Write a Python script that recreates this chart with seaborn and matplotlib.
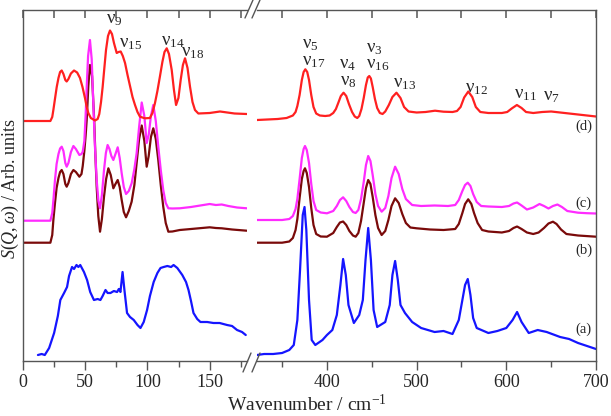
import numpy as np
import pandas as pd
import matplotlib
matplotlib.use('Agg')
from matplotlib import pyplot as plt
from matplotlib.ticker import MultipleLocator, NullLocator
from matplotlib.lines import Line2D
import seaborn as sns

# ---- data (arbitrary units, vertical offsets included) ----
# low-frequency window, 0-180 cm-1
x_d_lo = [0, 22, 23.5, 24.4, 25.8, 27.1, 28.5, 29.8, 31.1, 32.5, 34, 35.1, 36.5, 38.5, 41, 43.5, 45.8, 47.8, 49.8,
          51.2, 52.5, 54.5, 57.9, 60, 61.3, 62.7, 64, 65.3, 66.7, 68.3, 69.9, 71.5, 73.1, 75.3, 76.8, 78.5, 80.2,
          82, 84, 86, 88, 90, 92, 94, 98, 102, 104, 106, 108, 110, 112, 113.7, 115.5, 117.3, 119.5, 121.3, 123,
          124.9, 126.7, 128.5, 130.2, 132.2, 134.2, 136.2, 138.2, 140.9, 150, 158.3, 170, 179.8]
y_d_lo = [240, 240, 244, 251, 263, 274, 283, 289, 290.5, 287, 281, 279.5, 282, 287.5, 290.5, 288.5, 283, 274, 263,
          254, 248, 243, 240.5, 242, 247, 259, 274, 292, 311, 325, 330.5, 327, 318, 308, 309, 309.5, 305, 298,
          286, 275, 264, 256, 249, 244.3, 242.7, 243, 248, 257.7, 270, 284.3, 299, 309, 312.7, 307, 291, 271, 256,
          263, 281, 296, 302.7, 293, 274.3, 259, 251, 247.5, 248, 249.5, 247.5, 247]

x_c_lo = [0, 22, 23.5, 24.5, 25.7, 27, 28.5, 29.8, 31.1, 32.5, 34, 35.1, 36.5, 38.5, 40.5, 42.5, 45.3, 47, 48,
          49.3, 50.3, 51.2, 52.3, 53.8, 55.2, 56.5, 57.8, 59.2, 60.6, 61.9, 63.4, 65.1, 66.6, 68, 69.5, 71, 72.6,
          74.3, 76.1, 77.7, 79.3, 81, 82.8, 85, 87.3, 89.5, 91.3, 93.3, 95.4, 97.5, 99.4, 101, 102.8, 104.7, 106.7,
          108.7, 110.7, 112.7, 114.7, 116.8, 120, 126, 135, 145, 150, 155, 159.7, 165, 172, 179.8]
y_c_lo = [140.3, 140.3, 148, 162, 181, 197, 207, 212.5, 214.3, 210, 198, 194.3, 198, 209, 215, 212, 206, 207,
          209.3, 220, 245, 274.3, 305, 321, 302, 257.7, 215, 181, 160, 152.7, 166, 191, 208, 216, 212, 205, 201,
          207, 213.7, 203, 187.7, 174, 167, 170, 177.7, 192, 207.7, 234, 258.5, 245, 218, 226, 245, 256, 240,
          214.3, 191, 171, 158, 152.7, 152.5, 152.7, 154, 156, 157, 156, 156.5, 155, 153.5, 152.7]

x_b_lo = [0, 22, 23.5, 24.4, 25.7, 27, 28.5, 29.8, 31.1, 32.5, 34, 35.1, 36.5, 38.5, 40.5, 42.5, 45.3, 47, 48,
          49.3, 50.3, 51.2, 52.5, 53.8, 55.5, 57.2, 58.2, 59.2, 60.5, 61.9, 63.4, 65.1, 66.8, 68.6, 70.5, 72.6,
          74.3, 76.1, 77.7, 79.3, 81, 82.8, 85, 87.3, 89.5, 91.3, 93.3, 95.4, 97.5, 99.4, 101, 102.8, 104.7, 106.7,
          108.7, 110.7, 112.7, 114.7, 116.8, 120, 126, 135, 150, 155, 159.7, 168, 179.8]
y_b_lo = [118.3, 118.3, 126, 141, 158, 173, 183, 189, 191, 187, 177, 174.3, 178, 187, 191, 189, 184.3, 187, 195,
          210, 225, 241, 275, 296, 285, 241, 205, 174.3, 145, 129.3, 142, 164.3, 182, 192.7, 186, 172.7, 177, 181,
          174, 161, 149, 143.7, 150, 159.3, 176, 197.7, 222, 235.5, 220, 194.3, 205, 224, 232.7, 222, 201, 176,
          154.3, 138, 129.3, 129.5, 131, 132, 133.7, 133, 132.7, 131.5, 130.3]

x_a_lo = [12, 15, 17.5, 21, 25, 28, 30, 33, 35.4, 37, 39.4, 41, 43, 44.5, 46, 49, 51.5, 54, 57, 60, 62.2, 64, 66.3,
          68, 70.3, 73, 75.6, 77, 78.3, 80, 81.5, 83.6, 86, 89, 92, 94.4, 97, 99.7, 102, 105, 108, 110.5, 113, 116,
          119, 121, 124, 128, 131, 133, 135, 137, 140, 142.6, 148, 153, 158, 164, 168, 172, 176, 179]
y_a_lo = [6, 7, 6, 13, 28, 45, 61, 68, 74, 85, 94, 92, 96, 94, 96, 89, 81, 69, 61, 62, 61, 65, 71, 68, 68, 70, 69,
          72, 69, 89, 71, 48, 44, 41, 36, 33, 39, 51, 65, 79, 88, 93, 94, 95, 94, 96, 93, 86, 79, 71, 60, 48, 42, 39,
          39, 38, 38, 36, 35, 31, 29, 26]

# high-frequency window, 322-700 cm-1
x_d_hi = [322, 345, 355, 362, 365, 367, 369.5, 372, 374, 375.9, 378, 380, 382.5, 385, 388, 392, 398, 403, 407, 410,
          413, 415.5, 418.5, 421.5, 424.5, 428, 431, 433.8, 436, 438.5, 441, 443.5, 445.5, 447.2, 449, 451, 453.5,
          456, 459, 462, 465, 469, 473, 477.5, 482, 486, 491, 500, 510, 520.5, 530, 540, 545, 549, 553, 557.6, 562,
          566, 571, 580, 595, 601, 606, 611.8, 617, 622, 630, 640, 650, 660, 670, 680, 690, 700]
y_d_hi = [241, 242, 243, 245.5, 249, 255, 266, 281, 289, 291.7, 289, 281, 266, 254, 247.5, 245.5, 245, 245.5, 248,
          252, 259, 265, 268.3, 265, 257, 249, 244.5, 243, 245, 252, 263, 276, 283.5, 285, 282.5, 274, 262, 253,
          248, 247, 249.5, 256, 264, 268.3, 263, 254, 249.5, 248.5, 249, 250.3, 249.3, 249, 250, 254, 263.5, 269.5,
          264, 254, 249, 248, 248, 249, 252.5, 256, 253, 249, 248, 249, 249.5, 248.5, 247.5, 246.5, 245.5, 244.5]

x_c_hi = [322, 350, 358, 362, 365, 367, 369.5, 372, 374, 375.5, 377.5, 380, 382.5, 385, 388, 393, 400, 407, 411,
          414.5, 418, 421.5, 425, 429, 432, 435, 438, 441, 443.5, 446, 448.5, 451, 454, 457, 461, 465, 468.5, 472,
          476, 480, 484, 488, 495, 505, 520, 535, 543, 547, 551, 554, 557, 560, 563, 567, 572, 580, 595, 603, 608,
          612, 617, 623, 630, 637, 642, 647, 652, 657, 662, 668, 680, 690, 700]
y_c_hi = [141, 141, 142, 145, 152, 162, 182, 203, 212, 215, 211, 198, 177, 160, 151, 148.5, 147.7, 150, 155, 161,
          163.7, 160, 154, 149, 148, 151, 162, 179, 196, 205, 200, 186, 167, 155, 149.3, 153, 165, 183, 194.3, 187,
          172, 162, 156, 155, 155.5, 155, 156, 161, 170, 176, 178.3, 175, 167, 159, 155, 154.5, 154, 155, 157.5,
          158.5, 155.5, 151.5, 153.5, 157, 155, 152.5, 155, 156.5, 154, 150, 148.3, 147.8, 147.5]

x_b_hi = [322, 350, 358, 362, 365, 367, 369.5, 372, 374, 375.5, 377.5, 380, 382.5, 385, 388, 393, 400, 407, 411,
          414.5, 418, 421.5, 425, 429, 432, 435, 438, 441, 443.5, 446, 448.5, 451, 454, 457, 461, 465, 468.5, 472,
          476, 480, 484, 488, 493, 500, 515, 530, 543, 547, 551, 554, 557.5, 561, 564, 568, 573, 580, 595, 603, 608,
          612, 617, 623, 630, 636, 642, 647, 652, 656, 661, 667, 680, 700]
y_b_hi = [118.3, 118.3, 119.5, 123, 131, 142, 163, 182, 190, 192.7, 188, 174, 153, 136, 127, 124.5, 124.3, 128,
          134, 138.5, 139.5, 136, 130, 125.5, 124.3, 128, 140, 158, 173, 181, 177, 164, 146, 133, 126, 130, 141,
          155, 162.7, 158, 147, 138, 133.5, 132.7, 131.5, 131, 132, 137, 148, 157, 161.7, 157, 148, 138, 131, 129.5,
          128.5, 130, 133, 134.5, 132, 128.5, 127, 128.5, 133, 137.5, 139.3, 137, 131.5, 127, 125.5, 124.3]

x_a_hi = [322, 330, 340, 350, 358, 363, 367, 370, 373, 375, 377, 380, 383, 387, 395, 400, 406, 411, 415, 418, 421,
          424, 430, 436, 440, 443, 446, 449, 452, 456, 465, 470, 473, 476, 479, 482, 487, 495, 505, 520, 530, 540,
          547, 551, 554, 557, 560, 563, 567, 580, 590, 600, 607, 612, 617, 625, 635, 645, 660, 670, 680, 690, 700]
y_a_hi = [6, 7, 7, 8, 11, 16, 41, 91, 146, 154, 131, 61, 21, 16, 21, 26, 31, 46, 76, 102, 86, 56, 38, 46, 61, 101,
          133, 101, 51, 34, 39, 56, 86, 100, 81, 56, 48, 39, 33, 29, 30, 27, 41, 61, 76, 82, 66, 43, 33, 28, 30, 33,
          41, 49, 39, 28, 31, 29, 24, 22, 18, 15, 12]

curve_names = ['(a)', '(b)', '(c)', '(d)']
curve_colors = ['#1515ff', '#7a0a0a', '#ff2bff', '#ff2020']
curve_label_y = [32, 111, 158, 235]

lo_labels = [(66.7, 338, '9'), (77.1, 314, '15'), (110.6, 316, '14'), (126.7, 305, '18')]
hi_labels = [(371.8, 313, '5'), (371.8, 296, '17'), (413.8, 293, '4'), (414.6, 276, '8'), (443.2, 309, '3'),
             (443.2, 293, '16'), (473.3, 274, '13'), (553.9, 269, '12'), (608.9, 263, '11'), (641.3, 261, '7')]

# ---- style ----
sns.set_theme(style='ticks')
plt.rcParams['font.family'] = ['Liberation Serif', 'DejaVu Serif']
plt.rcParams['mathtext.fontset'] = 'custom'
plt.rcParams['mathtext.rm'] = 'Liberation Serif'
plt.rcParams['mathtext.it'] = 'Liberation Serif:italic'
spine_col = '#555555'

fig = plt.figure(figsize=(6.11, 4.16), dpi=100)
ax1 = fig.add_axes([23 / 611, 55 / 416, 224 / 611, 351.5 / 416])
ax2 = fig.add_axes([257 / 611, 55 / 416, 339 / 611, 351.5 / 416])

lo = [(x_a_lo, y_a_lo), (x_b_lo, y_b_lo), (x_c_lo, y_c_lo), (x_d_lo, y_d_lo)]
hi = [(x_a_hi, y_a_hi), (x_b_hi, y_b_hi), (x_c_hi, y_c_hi), (x_d_hi, y_d_hi)]
for (xl, yl), (xh, yh), col in zip(lo, hi, curve_colors):
    sns.lineplot(x=xl, y=yl, ax=ax1, color=col, lw=1.6, sort=False)
    sns.lineplot(x=xh, y=yh, ax=ax2, color=col, lw=1.6, sort=False)

for ax, lim, major, minor, side in [(ax1, (0, 180), 50, 25, 'right'), (ax2, (322, 700), 100, 50, 'left')]:
    ax.set_xlim(*lim)
    ax.set_ylim(0, 351.5)
    ax.xaxis.set_major_locator(MultipleLocator(major))
    ax.xaxis.set_minor_locator(MultipleLocator(minor))
    ax.yaxis.set_major_locator(NullLocator())
    ax.tick_params(axis='x', which='major', direction='out', length=6.5, width=1, color=spine_col,
                   labelsize=13, pad=3)
    ax.tick_params(axis='x', which='minor', direction='out', length=4, width=1, color=spine_col)
    for s in ax.spines.values():
        s.set_color(spine_col)
        s.set_linewidth(1)
    ax.spines[side].set_visible(False)
    ax.set_xlabel('')
    ax.set_ylabel('')
    # inward ticks along the top spine, at the same locations as the bottom ones
    top_ticks = [t for t in list(ax.get_xticks()) + list(ax.xaxis.get_minorticklocs()) if lim[0] <= t <= lim[1]]
    ax.vlines(top_ticks, 1 - 8.5 / 351.5, 1, transform=ax.get_xaxis_transform(), colors=spine_col,
              lw=1.1, clip_on=False)

for name, yv in zip(curve_names, curve_label_y):
    ax2.text(686, yv, name, fontsize=10.5, ha='center', va='center')

for xv, yv, sub in lo_labels:
    ax1.text(xv, yv, r'$\mathrm{\nu}_{%s}$' % sub, fontsize=13.5, ha='left', va='baseline')
for xv, yv, sub in hi_labels:
    ax2.text(xv, yv, r'$\mathrm{\nu}_{%s}$' % sub, fontsize=13.5, ha='left', va='baseline')

fig.text(10 / 611, 1 - 188 / 416, r'$S(Q,\omega)$ / Arb. units', fontsize=13, rotation=90,
         ha='center', va='center')
fig.text(307 / 611, 1 - 404 / 416, r'Wavenumber / cm$^{-1}$', fontsize=14, ha='center', va='center')

# break marks on the x axis
W, H = 611, 416
for (x0, y0, x1, y1) in [(245, 18, 253, 0), (252, 18, 260, 0), (243, 372, 251, 353), (252, 372, 260, 353)]:
    fig.add_artist(Line2D([x0 / W, x1 / W], [1 - y0 / H, 1 - y1 / H], color=spine_col, lw=1))

fig.savefig('out.png', dpi=100)
